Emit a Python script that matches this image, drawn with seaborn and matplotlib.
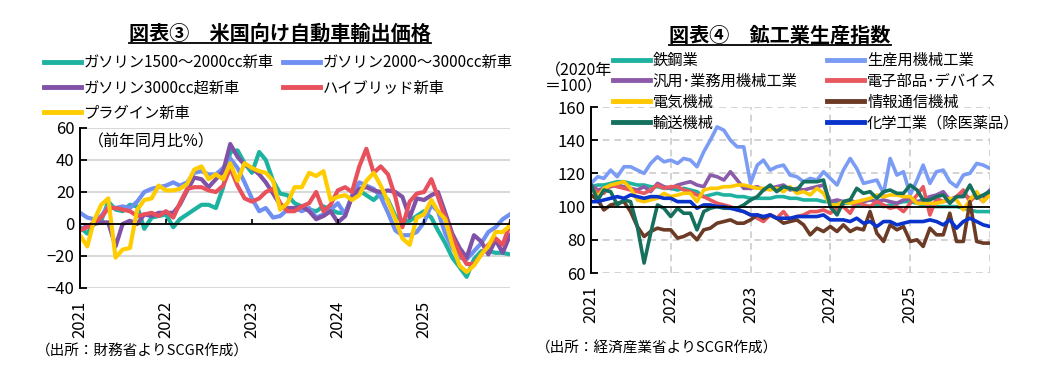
import numpy as np
import pandas as pd
import seaborn as sns
import matplotlib.pyplot as plt
from matplotlib.lines import Line2D

plt.rcParams['font.family'] = ['Noto Sans CJK JP', 'DejaVu Sans']

# x axis: monthly, Jan 2021 - Jan 2026
months = pd.date_range('2021-01-01', periods=61, freq='MS')
year_ticks = pd.date_range('2021-01-01', periods=6, freq='YS')
year_labels = ['2021', '2022', '2023', '2024', '2025', '']

# ---- chart 3: export prices of cars to the US (yoy %) ----
car_names = ['ガソリン1500～2000cc新車', 'ガソリン2000～3000cc新車', 'ガソリン3000cc超新車',
             'ハイブリッド新車', 'プラグイン新車']
car_colors = ['#1db3a0', '#6f8ff2', '#7f52a8', '#e8505b', '#ffcc00']
gas_1500 = [-2, -6, 0, 2, 14, 9, 8, 12, 11, -3, 4, 5, 6, -2, 3, 6, 9, 12, 12, 10,
            23, 45, 46, 38, 32, 45, 40, 27, 19, 18, 13, 11, 9, 8, 11, 9, 7, 7, 17, 21,
            18, 15, 19, 15, 5, 2, 2, 5, 8, 4, -4, -12, -21, -27, -33, -22, -17, -17, -18, -18, -19]
gas_2000 = [7, 4, 3, 5, 11, 10, 11, 10, 14, 20, 22, 23, 24, 26, 24, 26, 32, 33, 31, 31,
            35, 41, 35, 26, 16, 8, 10, 4, 5, 9, 10, 8, 10, 4, 6, 9, 13, 6, 18, 26,
            24, 22, 17, 7, -4, -7, -7, -5, 1, 12, 8, -6, -15, -21, -22, -17, -12, -5, -2, 3, 6]
gas_3000 = [-4, -1, 0, 1, 1, -14, 0, 2, 0, 6, 5, 7, 7, 7, 12, 21, 29, 28, 23, 28,
            33, 50, 42, 37, 35, 31, 26, 19, 12, 10, 10, 11, 8, 3, 5, 8, 1, 5, 17, 22,
            23, 21, 20, 21, 20, 17, 4, 16, 15, 18, 20, 7, -6, -15, -21, -7, -11, -19, -10, -18, -7]
hybrid = [-4, -2, 1, 4, 10, 10, 9, 8, 5, 6, 7, 5, 8, 4, 13, 22, 23, 23, 21, 20,
          24, 35, 24, 16, 14, 16, 20, 22, 13, 8, 8, 11, 13, 20, 8, 12, 21, 23, 20, 36,
          47, 32, 36, 31, 17, -2, 14, 19, 20, 28, 17, 4, -8, -18, -25, -25, -19, -13, -9, -13, 0]
plugin = [-7, -14, 2, 12, 16, -21, -16, -15, 9, 15, 16, 24, 21, 21, 22, 25, 34, 36, 28, 31,
          28, 38, 27, 38, 35, 33, 32, 27, 9, 13, 23, 23, 32, 30, 33, 15, 17, 18, 15, 18,
          27, 32, 24, 14, 3, -9, -13, 4, 6, 15, 8, 3, -13, -26, -30, -26, -19, -14, -5, -5, -1]

# ---- chart 4: industrial production index (2020=100) ----
ind_names = ['鉄鋼業', '生産用機械工業', '汎用･業務用機械工業', '電子部品･デバイス',
             '電気機械', '情報通信機械', '輸送機械', '化学工業（除医薬品）']
ind_colors = ['#20b2a0', '#7b9cf5', '#8b5baa', '#e8585f', '#ffc800', '#6b3b26', '#16705e', '#0a33cc']
steel = [112, 113, 113, 114, 115, 115, 114, 113, 113, 112, 112, 111, 111, 110, 111, 110, 109, 106, 107, 108,
         107, 107, 106, 106, 105, 105, 105, 105, 106, 106, 105, 105, 104, 104, 104, 103, 103, 102, 102, 102,
         101, 101, 100, 101, 100, 101, 102, 103, 103, 102, 101, 100, 100, 100, 100, 100, 99, 98, 97, 97, 97]
production_mach = [114, 118, 117, 122, 118, 124, 124, 122, 120, 126, 130, 127, 128, 126, 129, 128, 124, 133, 140, 148,
                   146, 140, 136, 136, 114, 125, 128, 122, 124, 125, 119, 118, 115, 117, 116, 121, 117, 113, 122, 129,
                   123, 114, 115, 116, 108, 129, 119, 121, 107, 116, 125, 114, 121, 122, 115, 112, 119, 120, 126, 125, 123]
general_mach = [113, 110, 111, 112, 113, 112, 111, 110, 112, 109, 114, 112, 111, 113, 114, 115, 113, 112, 119, 118,
                116, 121, 116, 111, 111, 112, 110, 111, 112, 113, 110, 111, 110, 111, 112, 113, 103, 104, 103, 104,
                102, 103, 104, 103, 104, 103, 102, 104, 105, 103, 104, 106, 107, 109, 104, 106, 107, 105, 106, 106, 110]
electronic = [111, 109, 108, 113, 112, 111, 110, 109, 108, 110, 113, 111, 112, 112, 110, 109, 107, 106, 104, 102,
              101, 100, 98, 97, 95, 93, 91, 95, 93, 97, 92, 94, 95, 97, 97, 98, 96, 99, 100, 96,
              103, 101, 100, 103, 101, 99, 100, 97, 102, 107, 112, 95, 105, 103, 104, 106, 110, 103, 107, 103, 108]
electrical = [111, 106, 111, 113, 114, 115, 111, 104, 103, 104, 105, 108, 106, 107, 108, 108, 103, 110, 111, 111,
              112, 112, 113, 113, 112, 111, 111, 110, 111, 109, 112, 108, 109, 107, 111, 108, 101, 101, 103, 102,
              103, 104, 105, 107, 106, 107, 107, 106, 106, 102, 102, 102, 102, 103, 105, 104, 98, 104, 109, 103, 107]
ict = [107, 104, 98, 101, 102, 103, 97, 88, 82, 85, 87, 86, 86, 81, 82, 84, 80, 86, 87, 90,
       91, 92, 90, 90, 92, 95, 93, 95, 93, 90, 91, 92, 89, 83, 87, 85, 88, 85, 89, 85,
       87, 86, 97, 84, 79, 89, 86, 88, 79, 80, 76, 87, 83, 83, 96, 79, 79, 103, 79, 78, 78]
transport = [113, 104, 110, 109, 101, 104, 103, 88, 66, 84, 101, 99, 94, 99, 96, 96, 86, 97, 99, 100,
             99, 99, 99, 101, 104, 106, 110, 113, 109, 112, 111, 110, 115, 115, 115, 116, 100, 95, 103, 104,
             111, 108, 109, 105, 109, 110, 108, 108, 113, 110, 104, 104, 106, 107, 102, 106, 106, 113, 105, 107, 109]
chemical = [103, 103, 104, 105, 106, 105, 107, 106, 105, 106, 106, 105, 105, 103, 103, 103, 99, 101, 101, 100,
            100, 99, 98, 97, 95, 95, 94, 95, 93, 93, 93, 94, 94, 94, 94, 95, 92, 92, 92, 91,
            93, 90, 91, 88, 91, 91, 89, 90, 91, 91, 91, 92, 91, 89, 92, 87, 91, 93, 91, 89, 88]

df_car = pd.DataFrame(dict(zip(car_names, [gas_1500, gas_2000, gas_3000, hybrid, plugin])))
df_car['month'] = months
df_car = df_car.melt(id_vars='month', var_name='series', value_name='value')

df_ind = pd.DataFrame(dict(zip(ind_names, [steel, production_mach, general_mach, electronic,
                                           electrical, ict, transport, chemical])))
df_ind['month'] = months
df_ind = df_ind.melt(id_vars='month', var_name='series', value_name='value')

W, H = 1048, 378
fig = plt.figure(figsize=(W / 100, H / 100), dpi=100)
ax1 = fig.add_axes([80 / W, 1 - 288 / H, 430 / W, 160 / H])
ax2 = fig.add_axes([591 / W, 1 - 273 / H, 399 / W, 166 / H])

sns.lineplot(data=df_car, x='month', y='value', hue='series', hue_order=car_names,
             palette=car_colors, linewidth=3, ax=ax1, legend=False)
sns.lineplot(data=df_ind, x='month', y='value', hue='series', hue_order=ind_names,
             palette=ind_colors, linewidth=2.6, ax=ax2, legend=False)

# left axes styling
ax1.set_ylim(-40, 60)
ax1.set_yticks(range(-40, 61, 20))
ax1.set_xlim(months[0], months[-1])
ax1.grid(axis='y', color='#d9d9d9', lw=1.5)
ax1.axhline(0, color='black', lw=1.3)
ax1.vlines(year_ticks, 0, 3, color='black', lw=1.2)

# right axes styling
ax2.set_ylim(60, 160)
ax2.set_yticks(range(60, 161, 20))
ax2.set_xlim(months[0], months[-1])
ax2.grid(axis='both', color='#cccccc', lw=1.2, linestyle=(0, (4, 3)))
ax2.axhline(100, color='black', lw=1.3)

for ax in (ax1, ax2):
    ax.set_axisbelow(True)
    ax.set_xticks(year_ticks)
    ax.set_xticklabels(year_labels, rotation=90, fontsize=12)
    ax.tick_params(axis='x', length=0, pad=9)
    ax.tick_params(axis='y', direction='in', length=5, width=1.3, labelsize=12, pad=4)
    ax.set_xlabel('')
    ax.set_ylabel('')
    for s in ('top', 'right', 'bottom'):
        ax.spines[s].set_visible(False)
    ax.spines['left'].set_color('black')
    ax.spines['left'].set_linewidth(1.4)
    ax.set_facecolor('none')

# legends (row-major order as in the original)
h1 = [Line2D([], [], color=c, lw=3.5) for c in car_colors]
o1 = [0, 2, 4, 1, 3]
fig.legend([h1[i] for i in o1], [car_names[i] for i in o1], ncol=2, loc='upper left',
           bbox_to_anchor=(44 / W, 1 - 54 / H), frameon=False, fontsize=11,
           handlelength=2.4, handletextpad=0.2, columnspacing=0.6, labelspacing=0.55,
           borderpad=0, borderaxespad=0)

h2 = [Line2D([], [], color=c, lw=3.5) for c in ind_colors]
o2 = [0, 2, 4, 6, 1, 3, 5, 7]
fig.legend([h2[i] for i in o2], [ind_names[i] for i in o2], ncol=2, loc='upper left',
           bbox_to_anchor=(613 / W, 1 - 52 / H), frameon=False, fontsize=11,
           handlelength=2.4, handletextpad=0.2, columnspacing=1.95, labelspacing=0.25,
           borderpad=0, borderaxespad=0)

# titles with underline
t1 = fig.text(280 / W, 1 - 33 / H, '図表③　米国向け自動車輸出価格', ha='center', va='center',
              fontsize=14.5, fontweight='bold')
t2 = fig.text(780 / W, 1 - 35 / H, '図表④　鉱工業生産指数', ha='center', va='center',
              fontsize=14.5, fontweight='bold')

fig.text(88 / W, 1 - 142 / H, '（前年同月比%）', ha='left', va='center', fontsize=11.5)
fig.text(545 / W, 1 - 79 / H, '（2020年\n＝100）', ha='left', va='center', fontsize=11.5,
         linespacing=0.95)
fig.text(36 / W, 1 - 352 / H, '（出所：財務省よりSCGR作成）', ha='left', va='center', fontsize=10.5)
fig.text(536 / W, 1 - 349 / H, '（出所：経済産業省よりSCGR作成）', ha='left', va='center', fontsize=10.5)

fig.canvas.draw()
inv = fig.transFigure.inverted()
for t in (t1, t2):
    bb = t.get_window_extent().transformed(inv)
    fig.add_artist(Line2D([bb.x0, bb.x1], [bb.y0 + 0.002] * 2, transform=fig.transFigure,
                          color='black', lw=1.3))

fig.savefig('out.png', dpi=100, facecolor='white')
